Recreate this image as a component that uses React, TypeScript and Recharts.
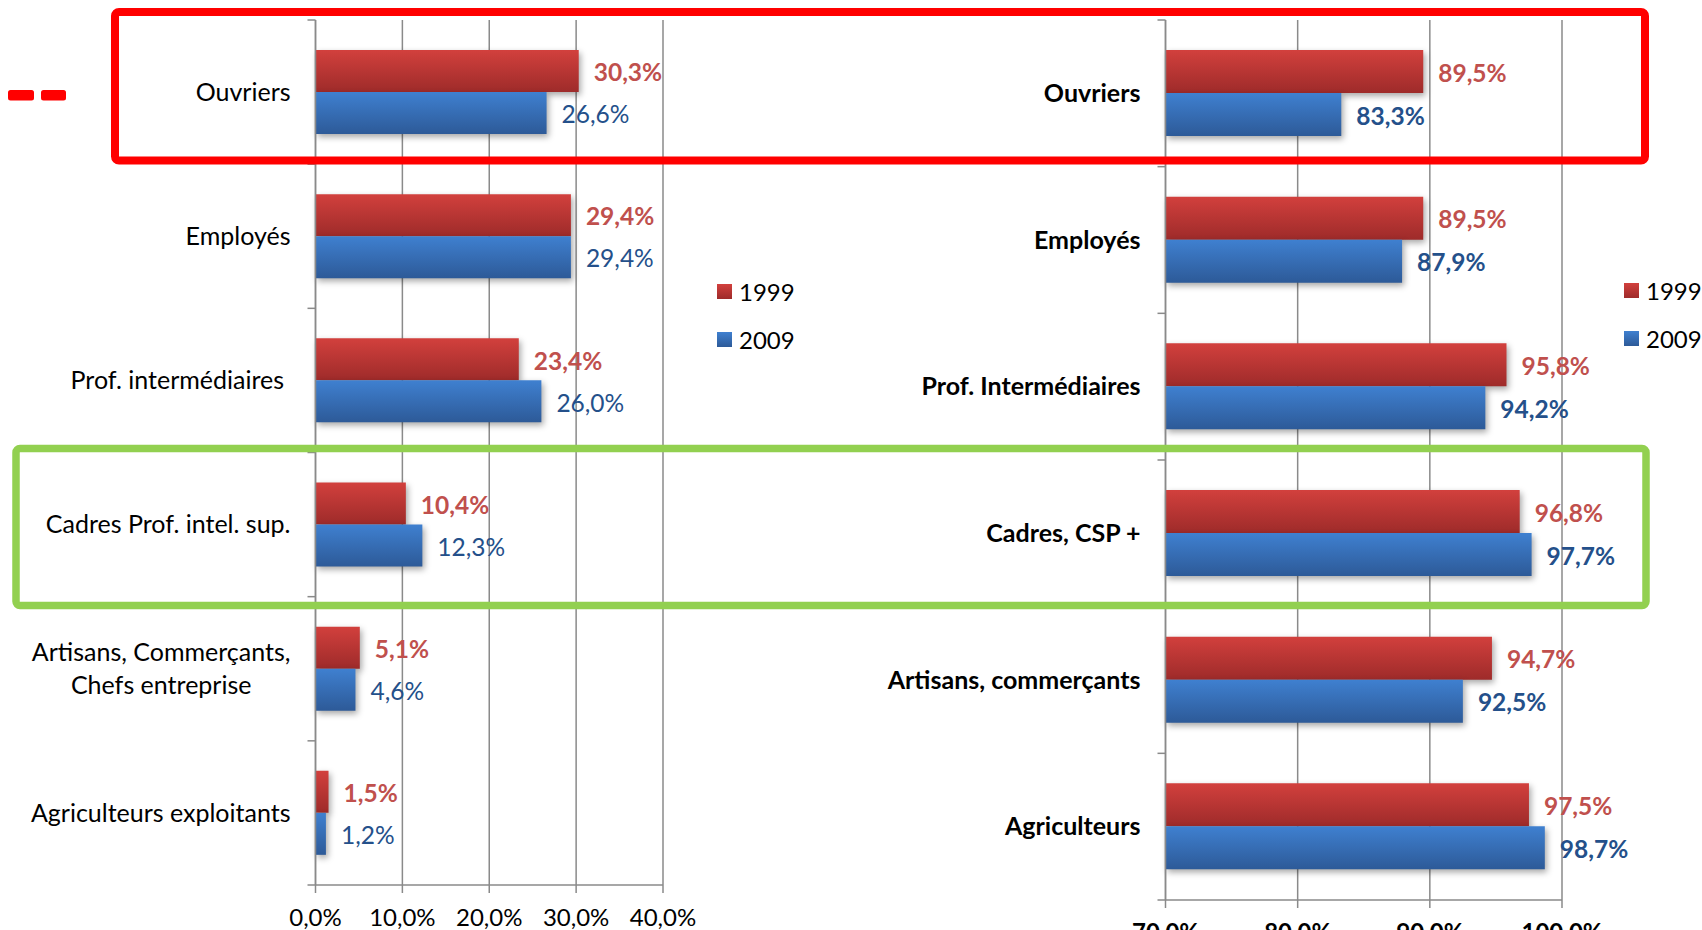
import { Bar, BarChart, CartesianGrid, LabelList, XAxis, YAxis } from 'recharts'

const leftCategories = [
  'Ouvriers',
  'Employés',
  'Prof. intermédiaires\u00a0',
  'Cadres Prof. intel. sup.',
  'Artisans, Commerçants,\nChefs entreprise',
  'Agriculteurs exploitants',
]
const left1999 = [30.3, 29.4, 23.4, 10.4, 5.1, 1.5]
const left2009 = [26.6, 29.4, 26.0, 12.3, 4.6, 1.2]
const leftTicks = [0, 10, 20, 30, 40]

const rightCategories = [
  'Ouvriers',
  'Employés',
  'Prof. Intermédiaires',
  'Cadres, CSP +',
  'Artisans, commerçants',
  'Agriculteurs',
]
const right1999 = [89.5, 89.5, 95.8, 96.8, 94.7, 97.5]
const right2009 = [83.3, 87.9, 94.2, 97.7, 92.5, 98.7]
const rightTicks = [70, 80, 90, 100]

const seriesNames = ['1999', '2009']

const FONT = 'Lato'
const FONT_SIZE = 24
const CAT_SIZE = 25
const VALUE_SIZE = 24.5
const GRID = '#8a8a8a'
const LABEL_GAP = 25
const RED_LABEL = '#c0504d'
const BLUE_LABEL = '#24508a'
const RED_CSS = 'linear-gradient(#d2403d, #9e2b2a)'
const BLUE_CSS = 'linear-gradient(#3f80d0, #2d5a98)'

const fmt = (v: number) => v.toFixed(1).replace('.', ',') + '%'

let ctx: CanvasRenderingContext2D | null = null
function measure(text: string, font: string) {
  if (!ctx) ctx = document.createElement('canvas').getContext('2d')
  if (!ctx) return text.length * CAT_SIZE * 0.5
  ctx.font = font
  return ctx.measureText(text).width
}

function CategoryTick(props: any) {
  const { x, y, payload, index, bold, count, height } = props
  const half = payload.offset > 0 ? payload.offset : height / count / 2
  const axisX = x + LABEL_GAP
  const weight = bold ? 700 : 400
  const lines = String(payload.value).split('\n')
  const maxW = Math.max(...lines.map((l) => measure(l, `${weight} ${CAT_SIZE}px ${FONT}`)))
  const multi = lines.length > 1
  return (
    <g>
      <line x1={axisX - 8} x2={axisX} y1={y - half} y2={y - half} stroke={GRID} strokeWidth={1.5} />
      {index === count - 1 && (
        <line x1={axisX - 8} x2={axisX} y1={y + half} y2={y + half} stroke={GRID} strokeWidth={1.5} />
      )}
      {lines.map((l, i) => (
        <text
          key={i}
          x={multi ? x - maxW / 2 : x}
          y={y + (i - (lines.length - 1) / 2) * 33}
          dy="0.35em"
          textAnchor={multi ? 'middle' : 'end'}
          fontFamily={FONT}
          fontSize={CAT_SIZE}
          fontWeight={weight}
          fill="#000"
        >
          {l}
        </text>
      ))}
    </g>
  )
}

function LegendBox({ left, top }: { left: number; top: number }) {
  const fills = [RED_CSS, BLUE_CSS]
  return (
    <div style={{ position: 'absolute', left, top, fontFamily: FONT, fontSize: FONT_SIZE, color: '#000' }}>
      {seriesNames.map((n, i) => (
        <div key={n} style={{ display: 'flex', alignItems: 'center', height: 48 }}>
          <span style={{ width: 15, height: 15, background: fills[i], marginRight: 7, display: 'inline-block' }} />
          {n}
        </div>
      ))}
    </div>
  )
}

interface PanelProps {
  id: string
  categories: string[]
  v1999: number[]
  v2009: number[]
  ticks: number[]
  width: number
  height: number
  margin: { top: number; right: number; bottom: number; left: number }
  xHeight: number
  bold: boolean
}

function Panel({ id, categories, v1999, v2009, ticks, width, height, margin, xHeight, bold }: PanelProps) {
  const data = categories.map((name, i) => ({ name, y1999: v1999[i], y2009: v2009[i] }))
  const count = categories.length
  return (
    <BarChart
      width={width}
      height={height}
      data={data}
      layout="vertical"
      margin={margin}
      barCategoryGap={30}
      barGap={0}
    >
      <defs>
        <linearGradient id={`${id}-red`} x1="0" y1="0" x2="0" y2="1">
          <stop offset="0%" stopColor="#d2403d" />
          <stop offset="100%" stopColor="#9e2b2a" />
        </linearGradient>
        <linearGradient id={`${id}-blue`} x1="0" y1="0" x2="0" y2="1">
          <stop offset="0%" stopColor="#3f80d0" />
          <stop offset="100%" stopColor="#2d5a98" />
        </linearGradient>
      </defs>
      <CartesianGrid horizontal={false} stroke={GRID} strokeWidth={1.5} />
      <XAxis
        type="number"
        domain={[ticks[0], ticks[ticks.length - 1]]}
        ticks={ticks}
        interval={0}
        tickFormatter={fmt}
        tickSize={8}
        tickMargin={16}
        height={xHeight}
        axisLine={{ stroke: GRID, strokeWidth: 1.5 }}
        tickLine={{ stroke: GRID, strokeWidth: 1.5 }}
        tick={{ fill: '#000', fontSize: FONT_SIZE, fontFamily: FONT, fontWeight: bold ? 700 : 400 }}
      />
      <YAxis
        type="category"
        dataKey="name"
        width={300}
        interval={0}
        tickSize={0}
        tickMargin={LABEL_GAP}
        tickLine={false}
        axisLine={{ stroke: GRID, strokeWidth: 1.5 }}
        tick={(p: any) => <CategoryTick {...p} bold={bold} count={count} />}
      />
      <Bar
        dataKey="y1999"
        name={seriesNames[0]}
        fill={`url(#${id}-red)`}
        isAnimationActive={false}
        style={{ filter: 'drop-shadow(2px 3px 3px rgba(0,0,0,0.35))' }}
      >
        <LabelList
          dataKey="y1999"
          position="right"
          offset={15}
          dy={1.5}
          formatter={(v: any) => fmt(Number(v))}
          fill={RED_LABEL}
          fontSize={VALUE_SIZE}
          fontFamily={FONT}
          fontWeight={700}
        />
      </Bar>
      <Bar
        dataKey="y2009"
        name={seriesNames[1]}
        fill={`url(#${id}-blue)`}
        isAnimationActive={false}
        style={{ filter: 'drop-shadow(2px 3px 3px rgba(0,0,0,0.35))' }}
      >
        <LabelList
          dataKey="y2009"
          position="right"
          offset={15}
          dy={1.5}
          formatter={(v: any) => fmt(Number(v))}
          fill={BLUE_LABEL}
          fontSize={VALUE_SIZE}
          fontFamily={FONT}
          fontWeight={bold ? 700 : 400}
        />
      </Bar>
    </BarChart>
  )
}

export default function App() {
  return (
    <div
      style={{
        position: 'absolute',
        left: 0,
        top: 0,
        width: 1702,
        height: 930,
        overflow: 'hidden',
        background: '#fff',
      }}
    >
      <div style={{ position: 'absolute', left: 0, top: 0 }}>
        <Panel
          id="l"
          categories={leftCategories}
          v1999={left1999}
          v2009={left2009}
          ticks={leftTicks}
          width={850}
          height={930}
          margin={{ top: 20, right: 187, bottom: 5, left: 15.5 }}
          xHeight={40}
          bold={false}
        />
      </div>
      <div style={{ position: 'absolute', left: 850, top: 0 }}>
        <Panel
          id="r"
          categories={rightCategories}
          v1999={right1999}
          v2009={right2009}
          ticks={rightTicks}
          width={852}
          height={960}
          margin={{ top: 20, right: 140, bottom: 0, left: 15.5 }}
          xHeight={60}
          bold={true}
        />
      </div>
      <LegendBox left={717} top={267} />
      <LegendBox left={1624} top={266.5} />
      <svg
        width={1702}
        height={930}
        style={{ position: 'absolute', left: 0, top: 0, pointerEvents: 'none' }}
      >
        <rect x={115} y={12} width={1530} height={148.5} rx={4} fill="none" stroke="#ff0000" strokeWidth={8} />
        <rect x={16} y={448.5} width={1630} height={157} rx={4} fill="none" stroke="#92d050" strokeWidth={7.5} />
        <rect x={8} y={90} width={26} height={10.5} rx={2.5} fill="#ff0000" />
        <rect x={41} y={90} width={25} height={10.5} rx={2.5} fill="#ff0000" />
      </svg>
    </div>
  )
}
